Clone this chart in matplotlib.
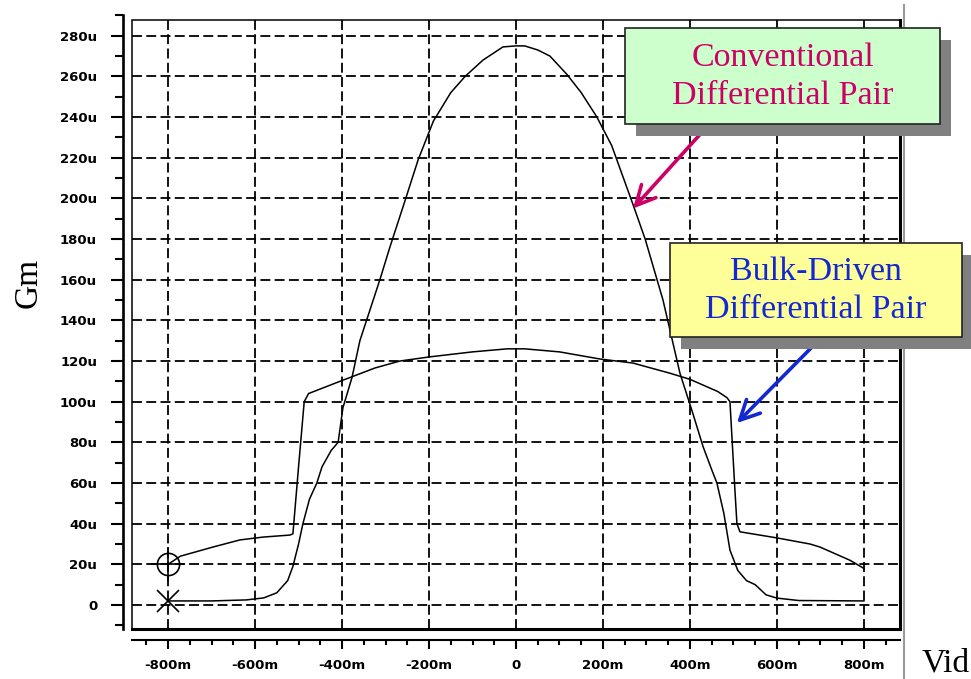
import matplotlib
matplotlib.use("Agg")
import matplotlib.pyplot as plt
from matplotlib.patches import Rectangle
from matplotlib.lines import Line2D
from matplotlib.ticker import FuncFormatter, MultipleLocator

# --- dane: Vid [mV], Gm [uA/V] ---
vid_conv = [-800, -700, -620, -580, -550, -525, -513, -500, -490, -475, -458, -446,
            -425, -409, -398, -377, -359, -336, -313, -290, -255, -225, -190, -150,
            -117, -76, -30, 0, 20, 50, 78, 117, 150, 186, 220, 269, 297, 338, 377, 407,
            430, 451, 462, 478, 492, 510, 530, 550, 575, 600, 650, 800]
gm_conv = [2.0, 2.0, 2.5, 3.5, 6, 12, 19, 30, 40, 52, 60, 68,
           76, 80, 97, 112, 130, 145, 160, 176, 199, 219, 238, 252,
           260, 268, 274.5, 275, 275, 273, 270, 261, 252, 240, 226, 197, 180, 150, 114, 94,
           78, 66, 60, 45, 27, 17, 12, 10, 5, 3.4, 2.2, 2.0]

vid_bulk = [-800, -772, -697, -635, -582, -520, -513, -500, -487, -477, -405, -324,
            -267, -200, -100, -20, 20, 100, 193, 269, 354, 400, 464, 485, 492, 503,
            508, 515, 600, 676, 699, 768, 800]
gm_bulk = [20, 24, 28.5, 32, 33.4, 34.4, 35, 68, 100, 104, 110, 116.6,
           120, 122, 124.5, 126, 126, 124.5, 121, 119, 114, 111, 105, 102, 100, 58,
           40, 36, 33, 30, 28.5, 22, 18]

x_grid = [-800, -600, -400, -200, 0, 200, 400, 600, 800]
y_grid = list(range(0, 281, 20))

W, H = 971, 679
SERIF = ['Liberation Serif', 'DejaVu Serif']


def box(x0, y0, x1, y1):
    # prostokat w pikselach obrazka -> ulamki figury
    return (x0 / W, 1 - y1 / H), (x1 - x0) / W, (y1 - y0) / H


def fig_xy(x, y):
    return x / W, 1 - y / H


def save_gm_chart():
    fig = plt.figure(figsize=(W / 100, H / 100), dpi=100)
    ax = fig.add_axes([132 / W, 1 - 629.4 / H, 768 / W, (629.4 - 15.4) / H])
    ax.set_xlim(-883, 883)
    ax.set_ylim(-12, 290)

    # siatka (przerywana)
    ax.hlines(y_grid, -883, 883, colors='black', linewidth=1.3,
              linestyles=(0, (5.5, 2.4)), zorder=1)
    ax.vlines(x_grid, -12, 287.6, colors='black', linewidth=1.3,
              linestyles=(0, (5.5, 2.4)), zorder=1)

    # ramka pola wykresu
    ax.add_patch(Rectangle((-883, -12), 1766, 299.6, fill=False, ec='black',
                           lw=1.1, clip_on=False, zorder=2))
    ax.plot([-883, 883], [-12, -12], color='black', lw=2.2, clip_on=False, zorder=2)
    ax.plot([883, 883], [-12, 287.6], color='black', lw=2.2, clip_on=False, zorder=2)

    # krzywe
    ax.plot(vid_conv, gm_conv, color='black', lw=1.1, zorder=3)
    ax.plot(vid_bulk, gm_bulk, color='black', lw=1.1, zorder=3)
    ax.plot(vid_bulk[0], gm_bulk[0], marker='o', ms=16, mfc='none', mec='black',
            mew=1.2, zorder=4)
    ax.plot(vid_bulk[0], gm_bulk[0], marker='+', ms=24, mec='black', mew=1.2, zorder=4)
    ax.plot(vid_conv[0], gm_conv[0], marker='x', ms=16, mec='black', mew=1.2, zorder=4)

    # osie-linijki
    for s in ['top', 'right']:
        ax.spines[s].set_visible(False)
    ax.spines['left'].set_position(('outward', 6.5))
    ax.spines['bottom'].set_position(('outward', 7.9))
    ax.spines['left'].set_linewidth(1.9)
    ax.spines['bottom'].set_linewidth(1.5)
    ax.spines['left'].set_bounds(-12, 290)

    ax.set_xticks(x_grid)
    ax.set_yticks(y_grid)
    ax.xaxis.set_minor_locator(MultipleLocator(50))
    ax.yaxis.set_minor_locator(MultipleLocator(10))
    ax.xaxis.set_major_formatter(FuncFormatter(lambda v, p: '0' if v == 0 else f'{int(v)}m'))
    ax.yaxis.set_major_formatter(FuncFormatter(lambda v, p: '0' if v == 0 else f'{int(v)}u'))
    ax.tick_params(axis='y', which='major', length=8.6, width=1.5, pad=10)
    ax.tick_params(axis='y', which='minor', length=5.8, width=1.5)
    ax.tick_params(axis='x', which='major', length=6.5, width=1.5, pad=7)
    ax.tick_params(axis='x', which='minor', length=3.6, width=1.5)
    for lbl in ax.get_xticklabels() + ax.get_yticklabels():
        lbl.set_fontsize(9.5)
        lbl.set_fontweight('bold')

    # opisy osi
    fig.text(*fig_xy(28, 283), 'Gm', rotation=90, family=SERIF, fontsize=24,
             ha='center', va='center')
    fig.text(*fig_xy(946, 663), 'Vid', family=SERIF, fontsize=24,
             ha='center', va='center')

    # szara pionowa linia po prawej
    fig.add_artist(Line2D([904 / W, 904 / W], [1 - 5 / H, 0], transform=fig.transFigure,
                          color='#9a9a9a', lw=1.5))

    # ramki z opisami (z cieniem)
    labels = [
        ((625, 28, 940, 124), '#ccffcc', '#cc0066', 'Conventional\nDifferential Pair'),
        ((670, 243, 962, 337), '#ffff99', '#1428d2', 'Bulk-Driven\nDifferential Pair'),
    ]
    for (x0, y0, x1, y1), fc, tc, txt in labels:
        xy, w, h = box(x0 + 11, y0 + 12, x1 + 11, y1 + 12)
        fig.add_artist(Rectangle(xy, w, h, transform=fig.transFigure,
                                 fc='#808080', ec='none', zorder=5))
        xy, w, h = box(x0, y0, x1, y1)
        fig.add_artist(Rectangle(xy, w, h, transform=fig.transFigure,
                                 fc=fc, ec='#222222', lw=1.2, zorder=6))
        fig.text(*fig_xy((x0 + x1) / 2, (y0 + y1) / 2 + 1), txt, family=SERIF,
                 fontsize=24.5, color=tc, ha='center', va='center',
                 linespacing=1.3, zorder=7)

    # strzalki
    ax.annotate('', xy=(269, 195), xytext=fig_xy(704, 130), textcoords='figure fraction',
                annotation_clip=False,
                arrowprops=dict(arrowstyle='->,head_length=0.7,head_width=0.35',
                                color='#cc0066', lw=2.6, mutation_scale=20,
                                shrinkA=0, shrinkB=0))
    ax.annotate('', xy=(508, 89.5), xytext=fig_xy(816, 343), textcoords='figure fraction',
                annotation_clip=False,
                arrowprops=dict(arrowstyle='->,head_length=0.7,head_width=0.35',
                                color='#1428d2', lw=2.6, mutation_scale=20,
                                shrinkA=0, shrinkB=0))

    plt.savefig('out.png', dpi=100)
    plt.close()


if __name__ == "__main__":
    save_gm_chart()
